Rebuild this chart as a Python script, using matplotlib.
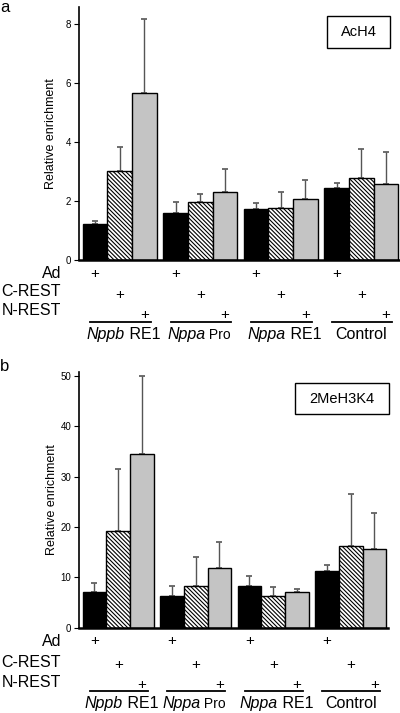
import numpy as np
import matplotlib
matplotlib.use('Agg')
import matplotlib.pyplot as plt
import matplotlib.transforms as mtransforms
from matplotlib.patches import Rectangle

plt.rcParams['font.family'] = ['Liberation Sans', 'DejaVu Sans']
plt.rcParams['hatch.linewidth'] = 0.8

# 数据
group_it = ['Nppb', 'Nppa', 'Nppa', '']
group_rest = [' RE1', ' Pro', ' RE1', 'Control']
rows = ['Ad', 'C-REST', 'N-REST']

# a: AcH4
a_ad = [1.23, 1.61, 1.72, 2.43]
a_ad_sd = [0.08, 0.36, 0.20, 0.18]
a_c = [3.03, 1.98, 1.75, 2.77]
a_c_sd = [0.81, 0.25, 0.54, 0.98]
a_n = [5.65, 2.29, 2.08, 2.58]
a_n_sd = [2.53, 0.78, 0.62, 1.09]

# b: 2MeH3K4
b_ad = [7.0, 6.35, 8.27, 11.3]
b_ad_sd = [1.87, 1.95, 2.03, 1.1]
b_c = [19.2, 8.27, 6.35, 16.2]
b_c_sd = [12.2, 5.73, 1.65, 10.3]
b_n = [34.4, 11.8, 7.08, 15.55]
b_n_sd = [15.6, 5.3, 0.66, 7.15]

fig = plt.figure(figsize=(4, 7.13), dpi=100)
H = 713.0

def fy(py):
    # 像素y -> figure坐标
    return 1 - py / H

def draw_panel(ax, vals, sds, ylim, yticks, title, box, label_py, plus_py, line_py, name_py, letter, letter_py):
    step = 3.26
    starts = np.arange(4) * step + 0.15
    styles = [dict(color='black', edgecolor='black'),
              dict(color='white', edgecolor='black', hatch='\\' * 8),
              dict(color='#c4c4c4', edgecolor='black')]
    for i in range(3):
        x = starts + i + 0.5
        ax.bar(x, vals[i], width=1.0, linewidth=1.0, zorder=2, **styles[i])
        ax.errorbar(x, vals[i], yerr=[np.zeros(4), sds[i]], fmt='none',
                    ecolor='#555555', elinewidth=1.0, capsize=2.5, capthick=1.2, zorder=1)
    ax.set_xlim(0, 13.0)
    ax.set_ylim(*ylim)
    ax.set_yticks(yticks)
    ax.set_xticks([])
    ax.tick_params(axis='y', labelsize=7, length=3.5, width=0.8, pad=2)
    for s in ['top', 'right']:
        ax.spines[s].set_visible(False)
    ax.spines['left'].set_linewidth(1.2)
    ax.spines['bottom'].set_linewidth(1.8)
    ax.set_ylabel('Relative enrichment', fontsize=9)
    ax.yaxis.set_label_coords(-0.068, 0.5)

    # 右上角标题框
    x0, y0, x1, y1 = box
    fig.patches.append(Rectangle((x0 / 400, fy(y1)), (x1 - x0) / 400, (y1 - y0) / H,
                                 transform=fig.transFigure, facecolor='white',
                                 edgecolor='black', linewidth=1.0))
    fig.text((x0 + x1) / 800, fy((y0 + y1) / 2), title, fontsize=10.5, ha='center', va='center')

    trans = mtransforms.blended_transform_factory(ax.transData, fig.transFigure)
    for r in range(3):
        fig.text(61 / 400, fy(label_py[r]), rows[r], fontsize=11.5, ha='right', va='center')
        for g in range(4):
            ax.text(starts[g] + r + 0.5, fy(plus_py[r]), '+', fontsize=11, ha='center', va='center',
                    transform=trans, clip_on=False)
    for g in range(4):
        ax.plot([starts[g] + 0.3, starts[g] + 2.75], [fy(line_py)] * 2, color='black',
                linewidth=1.3, transform=trans, clip_on=False)
        if group_it[g]:
            split = starts[g] + 1.5 + 0.2
            t = ax.text(split, fy(name_py), group_it[g], fontsize=11.5, style='italic',
                        ha='right', va='baseline', transform=trans, clip_on=False)
            rest_size = 10 if group_rest[g] == ' Pro' else 11.5
            ax.annotate(group_rest[g], xy=(1, 0), xycoords=t, fontsize=rest_size,
                        ha='left', va='bottom', annotation_clip=False)
        else:
            ax.text(starts[g] + 1.5, fy(name_py), group_rest[g], fontsize=11.5,
                    ha='center', va='baseline', transform=trans, clip_on=False)
    fig.text(0.0, fy(letter_py), letter, fontsize=12, ha='left', va='top')

ax1 = fig.add_axes([79 / 400, fy(260), 321 / 400, (260 - 7) / H])
draw_panel(ax1, [a_ad, a_c, a_n], [a_ad_sd, a_c_sd, a_n_sd], (0, 8.58), [0, 2, 4, 6, 8], 'AcH4',
           (327, 16, 390, 48), [273.7, 292, 310.5], [274, 295.5, 315], 322, 339, 'a', 0)

ax2 = fig.add_axes([79 / 400, fy(627.7), 309 / 400, (627.7 - 371.7) / H])
draw_panel(ax2, [b_ad, b_c, b_n], [b_ad_sd, b_c_sd, b_n_sd], (0, 50.8), [0, 10, 20, 30, 40, 50], '2MeH3K4',
           (295, 383, 389, 414), [641, 662.5, 682.5], [641, 664.5, 684.5], 691, 708, 'b', 359)

plt.savefig('out.png', dpi=100)
